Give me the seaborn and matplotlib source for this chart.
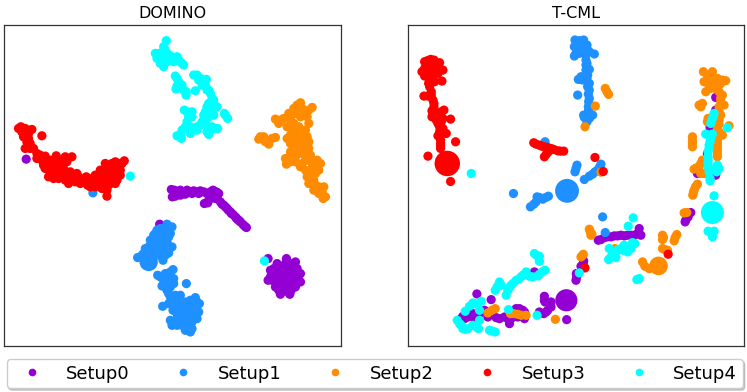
import pandas as pd
import seaborn as sns
import matplotlib.pyplot as plt
from matplotlib.lines import Line2D

setups = ['Setup0', 'Setup1', 'Setup2', 'Setup3', 'Setup4']
colors = ['darkviolet', 'dodgerblue', 'darkorange', 'red', 'cyan']

# DOMINO embedding
dom_0 = [(858,715),(885,725),(830,730),(810,750),(803,780),(825,800),(840,822),(868,822),(885,800),(900,785),
         (895,765),(880,745),(850,740),(850,770),(830,770),(870,770),(850,800),(870,795),(900,760),(840,745),
         (810,770),(860,750),(845,785),(78,417),(478,612),(803,715),
         (820,760),(815,780),(835,755),(855,730),(870,730),(875,755),(885,770),(885,785),(860,785),(835,790),
         (835,810),(855,812),(872,810),(845,755),(860,765),(820,745),(825,785),(890,745),(865,738),(840,770),(875,785),
         (513,508),(516,530),(530,515),(550,520),(560,510),(580,512),(600,512),(620,520),(638,510),(655,520),
         (640,530),(612,550),(625,540),(660,545),(675,560),(690,575),(705,590),(720,605),(738,622),(645,535),
         (680,565),(540,525),(595,520),(630,525),(698,583),(712,598),(728,613),
         (522,510),(525,528),(540,510),(570,515),(590,515),(610,515),(630,515),(648,515),(650,530),(622,548),
         (665,552),(684,570),(693,580),(708,594),(716,601),(733,618),(670,555),(555,522),(575,520)]
dom_1 = [(500,612),(515,620),(470,630),(495,640),(460,645),(480,655),(450,660),(500,665),(515,680),(470,680),
         (440,695),(490,695),(460,710),(412,712),(430,700),(488,720),(505,698),(470,665),(480,680),
         (505,625),(510,640),(480,625),(490,625),(465,640),(475,645),(490,650),(505,650),(455,670),(465,660),
         (445,680),(435,685),(490,670),(505,680),(480,700),(450,690),(425,705),(475,695),(495,705),(485,710),
         (472,765),(518,748),(495,760),(490,780),(520,775),(485,797),(510,800),(558,790),(505,820),(540,825),
         (585,832),(597,850),(555,845),(530,845),(487,858),(518,870),(545,870),(595,875),(560,880),(590,895),
         (515,905),(530,915),(560,900),(575,925),(570,935),(545,915),(515,915),(575,855),(545,895),(515,835),
         (480,770),(510,755),(505,770),(500,785),(495,800),(520,790),(500,810),(510,830),(525,825),(520,845),
         (535,860),(505,850),(530,880),(550,855),(570,840),(590,845),(580,870),(570,880),(585,885),(560,860),
         (530,895),(545,905),(560,915),(575,905),(525,905),(510,900),(555,930),(278,518)]
dom_2 = [(900,248),(935,262),(880,265),(865,280),(825,297),(850,295),(900,290),(880,310),(925,310),(860,320),
         (885,340),(920,350),(915,385),(775,357),(790,350),(805,372),(825,352),(870,370),(900,370),(925,385),
         (855,415),(858,432),(885,410),(905,430),(935,430),(960,430),(945,460),(920,470),(940,480),(970,500),
         (940,510),(955,520),(968,535),(975,530),(900,270),(870,395),(890,390),(915,410),(930,450),(955,500),
         (895,320),(905,345),
         (890,255),(925,270),(905,265),(890,280),(910,280),(875,285),(840,300),(835,310),(870,300),(920,290),
         (915,330),(875,330),(870,345),(895,350),(885,360),(905,360),(925,365),(860,355),(880,380),(905,395),
         (930,405),(870,410),(885,425),(920,420),(950,420),(945,435),(900,440),(915,450),(930,465),(955,450),
         (925,490),(945,495),(955,510),(965,515),(780,350),(815,355),(795,365),(895,400),(870,425)]
dom_3 = [(62,320),(55,325),(72,335),(75,325),(95,328),(70,350),(85,355),(125,347),(75,385),(90,370),
         (100,385),(110,400),(135,408),(125,420),(130,435),(148,450),(145,470),(168,407),(170,430),(185,420),
         (215,410),(200,425),(190,445),(165,462),(185,470),(205,490),(205,470),(230,460),(225,485),(258,470),
         (262,495),(285,465),(300,450),(315,430),(345,425),(372,422),(355,440),(335,460),(320,480),(300,490),
         (270,500),(285,500),(320,510),(320,528),(345,490),(360,465),(310,470),(340,445),(330,490),(295,475),
         (155,455),(175,475),(210,455),(240,475),
         (65,335),(85,340),(80,365),(90,385),(110,415),(120,405),(140,430),(150,430),(155,440),(165,445),
         (180,450),(175,440),(195,410),(190,430),(200,460),(195,480),(215,475),(220,470),(235,470),(250,480),
         (240,490),(275,475),(275,490),(290,485),(310,450),(325,440),(335,430),(355,430),(365,430),(345,450),
         (325,465),(350,470),(340,475),(310,495),(325,495),(305,505),(265,480),(350,480),(360,450),(160,475),
         (150,420),(135,445)]
dom_4 = [(498,62),(490,80),(480,100),(470,115),(490,140),(530,110),(545,130),(510,120),(500,100),(525,168),
         (535,185),(527,207),(545,195),(557,225),(585,212),(590,165),(580,165),(600,175),(618,178),(605,195),
         (625,210),(635,235),(650,260),(625,250),(615,275),(640,285),(672,280),(682,295),(552,270),(575,275),
         (575,290),(560,305),(610,300),(600,315),(635,320),(652,325),(625,343),(570,340),(545,330),(530,347),
         (543,355),(390,468),(792,722),(480,130),
         (495,90),(475,105),(490,110),(500,125),(515,110),(520,125),(535,120),(550,135),(505,105),(465,100),
         (485,120),(530,175),(540,195),(530,198),(550,210),(558,215),(595,180),(610,185),(615,195),(620,210),
         (630,220),(640,240),(630,260),(635,270),(620,260),(625,290),(610,285),(605,305),(590,320),(615,310),
         (630,330),(640,325),(560,275),(565,290),(555,320),(580,325),(570,320),(540,345),(590,330),(675,285),(620,335)]
dom_centers = [(445,725,'Setup1'),(482,105,'Setup4')]
dom_center_sizes = [175, 90]

# T-CML embedding
cml_0 = [(935,232),(918,322),(935,270),(910,400),(880,460),(935,465),(860,577),(843,605),(705,625),(710,645),
         (690,645),(660,647),(640,647),(620,650),(600,652),(582,660),(537,730),(530,738),(515,780),(517,770),
         (390,755),(420,828),(422,845),(440,860),(425,875),(405,875),(487,898),(345,865),(355,870),(340,890),
         (360,895),(315,910),(300,890),(275,892),(260,838),(217,821),(195,880),(175,888),(210,895),(240,870),
         (225,880),(320,895),
         (650,645),(670,645),(680,645),(700,640),(610,650),(590,658),(630,647),(538,722),(516,760),(430,870),
         (418,880),(440,845),(420,840),(345,875),(350,885),(330,880),(360,875),(335,865),(310,895),(285,895),
         (250,890),(205,880),(190,890),(180,895),(220,885),(170,895),(250,880),(845,600),(852,590),(925,300),(920,370)]
cml_1 = [(512,60),(538,60),(548,75),(520,85),(510,108),(540,95),(570,102),(545,120),(555,148),(545,135),
         (550,165),(522,178),(535,180),(555,190),(555,210),(520,225),(555,235),(552,260),(552,280),(540,292),
         (565,285),(548,305),(422,365),(518,435),(512,455),(540,478),(565,462),(580,450),(590,432),(327,520),
         (398,530),(432,528),(415,537),(378,560),(395,545),(595,590),(603,637),
         (525,62),(530,75),(510,80),(525,100),(530,90),(550,90),(515,100),(545,105),(555,95),(548,130),
         (545,150),(548,175),(530,170),(550,200),(552,222),(553,245),(553,270),(545,285),(555,295),(538,285),
         (515,445),(555,468),(572,455),(585,442),(408,534),(388,552),(424,532),(405,532)]
cml_2 = [(898,155),(925,155),(965,182),(900,185),(930,180),(945,195),(905,215),(945,215),(950,235),(960,255),
         (885,255),(895,250),(945,275),(945,300),(910,305),(940,325),(975,317),(955,345),(940,350),(865,350),
         (865,380),(940,380),(940,410),(870,447),(885,440),(895,420),(900,460),(603,205),(613,223),(573,258),
         (542,320),(590,456),(880,492),(870,510),(866,525),(848,577),(558,635),(560,645),(632,685),(530,710),
         (537,702),(775,645),(775,658),(818,643),(810,662),(775,685),(790,690),(715,725),(735,745),(262,870),
         (250,878),(318,880),(340,882),(365,885),(453,897),
         (910,165),(920,170),(950,190),(940,175),(915,195),(925,195),(955,180),(935,205),(920,205),(955,225),
         (950,245),(945,260),(950,285),(890,260),(945,312),(945,335),(912,295),(865,362),(865,370),(940,360),
         (940,370),(940,390),(940,400),(877,443),(890,430),(890,460),(608,215),(874,500),(868,517),(778,652),
         (813,652),(782,688),(722,738),(272,865),(328,880),(350,885),(840,578),(555,627),(563,642),(534,706)]
cml_3 = [(68,122),(88,120),(105,128),(115,150),(52,155),(75,140),(95,145),(70,170),(112,183),(72,190),
         (80,215),(58,228),(85,240),(88,260),(82,272),(118,270),(82,290),(105,290),(138,297),(100,310),
         (105,320),(125,340),(100,347),(108,370),(108,385),(153,365),(70,408),(138,484),(388,368),(405,375),
         (420,380),(440,385),(460,392),(478,393),(432,395),(420,410),(572,412),(597,454),(792,702),(542,743),
         (60,125),(78,118),(95,130),(85,135),(60,145),(80,155),(100,160),(85,165),(60,168),(80,185),
         (90,185),(75,200),(80,225),(70,228),(88,250),(85,280),(110,275),(100,280),(95,300),(115,295),
         (110,305),(115,325),(105,335),(108,345),(108,360),(108,378),(395,372),(412,378),(430,382),(448,388),
         (468,393),(426,402)]
cml_4 = [(930,280),(925,295),(920,310),(905,342),(925,342),(918,365),(915,385),(912,420),(912,440),(915,455),
         (940,435),(938,455),(918,482),(970,323),(200,460),(930,527),(912,633),(930,633),(925,650),(687,593),
         (672,618),(685,667),(660,675),(680,685),(640,690),(615,685),(670,695),(635,712),(613,718),(650,685),
         (705,775),(698,778),(525,758),(390,700),(405,708),(405,723),(422,750),(405,762),(385,770),(355,765),
         (365,755),(335,780),(320,795),(310,810),(305,825),(285,785),(278,800),(272,810),(398,885),(312,868),
         (230,843),(205,848),(195,858),(225,870),(182,873),(225,900),(158,900),(170,915),(182,927),(205,915),
         (222,925),(255,930),(272,935),
         (928,287),(922,303),(915,345),(920,355),(915,375),(912,395),(912,410),(912,430),(945,445),(935,445),
         (918,475),(692,670),(670,680),(655,690),(625,700),(620,710),(375,768),(345,775),(350,770),(325,790),
         (315,802),(290,795),(282,795),(400,767),(413,755),(396,705),(262,932),(190,925),(175,925),(165,910),
         (215,920),(210,850)]
cml_centers = [(486,840,'Setup0'),(488,512,'Setup1'),(763,737,'Setup2'),(128,430,'Setup3'),(925,577,'Setup4')]
cml_center_sizes = [255, 295, 180, 335, 275]

dom_sets = [dom_0, dom_1, dom_2, dom_3, dom_4]
cml_sets = [cml_0, cml_1, cml_2, cml_3, cml_4]


def make_frame(sets):
    rows = []
    for name, pts in zip(setups, sets):
        for x, y in pts:
            rows.append((x, y, name))
    return pd.DataFrame(rows, columns=['x', 'y', 'setup'])


sns.set_style('white')
palette = dict(zip(setups, colors))

fig = plt.figure(figsize=(7.47, 3.92), dpi=100)
ax1 = fig.add_axes([3.5/747, 1-346/392, 337/747, 321/392])
ax2 = fig.add_axes([408/747, 1-346/392, 336/747, 321/392])

panels = [(ax1, 'DOMINO', dom_sets, dom_centers, dom_center_sizes),
          (ax2, 'T-CML', cml_sets, cml_centers, cml_center_sizes)]

for ax, title, sets, centers, center_s in panels:
    sns.scatterplot(data=make_frame(sets), x='x', y='y', hue='setup', palette=palette,
                    s=44, linewidth=0, legend=False, ax=ax, zorder=2)
    cdf = pd.DataFrame(centers, columns=['x', 'y', 'setup'])
    sns.scatterplot(data=cdf, x='x', y='y', hue='setup', palette=palette,
                    s=center_s, linewidth=0, legend=False, ax=ax, zorder=3)
    ax.set_xlim(10, 1020)
    ax.set_ylim(977, 15)
    ax.set_xticks([])
    ax.set_yticks([])
    ax.set_xlabel('')
    ax.set_ylabel('')
    ax.set_title(title, fontsize=11.5, pad=5, color='black')
    for sp in ax.spines.values():
        sp.set_color('#333333')
        sp.set_linewidth(0.9)

handles = [Line2D([], [], linestyle='', marker='o', markersize=5.5, markeredgewidth=0, color=c) for c in colors]
fig.legend(handles, setups, loc='lower center', bbox_to_anchor=(0.5015, 0.01), ncol=5, fontsize=13,
           shadow={'alpha': 0.25, 'ox': 1.5, 'oy': -1.5}, frameon=True, borderpad=0.3, handlelength=2.18,
           handletextpad=0.8, columnspacing=1.9, borderaxespad=0, labelcolor='black', edgecolor='#cccccc',
           fancybox=True, framealpha=1)

fig.savefig('out.png', dpi=100)
